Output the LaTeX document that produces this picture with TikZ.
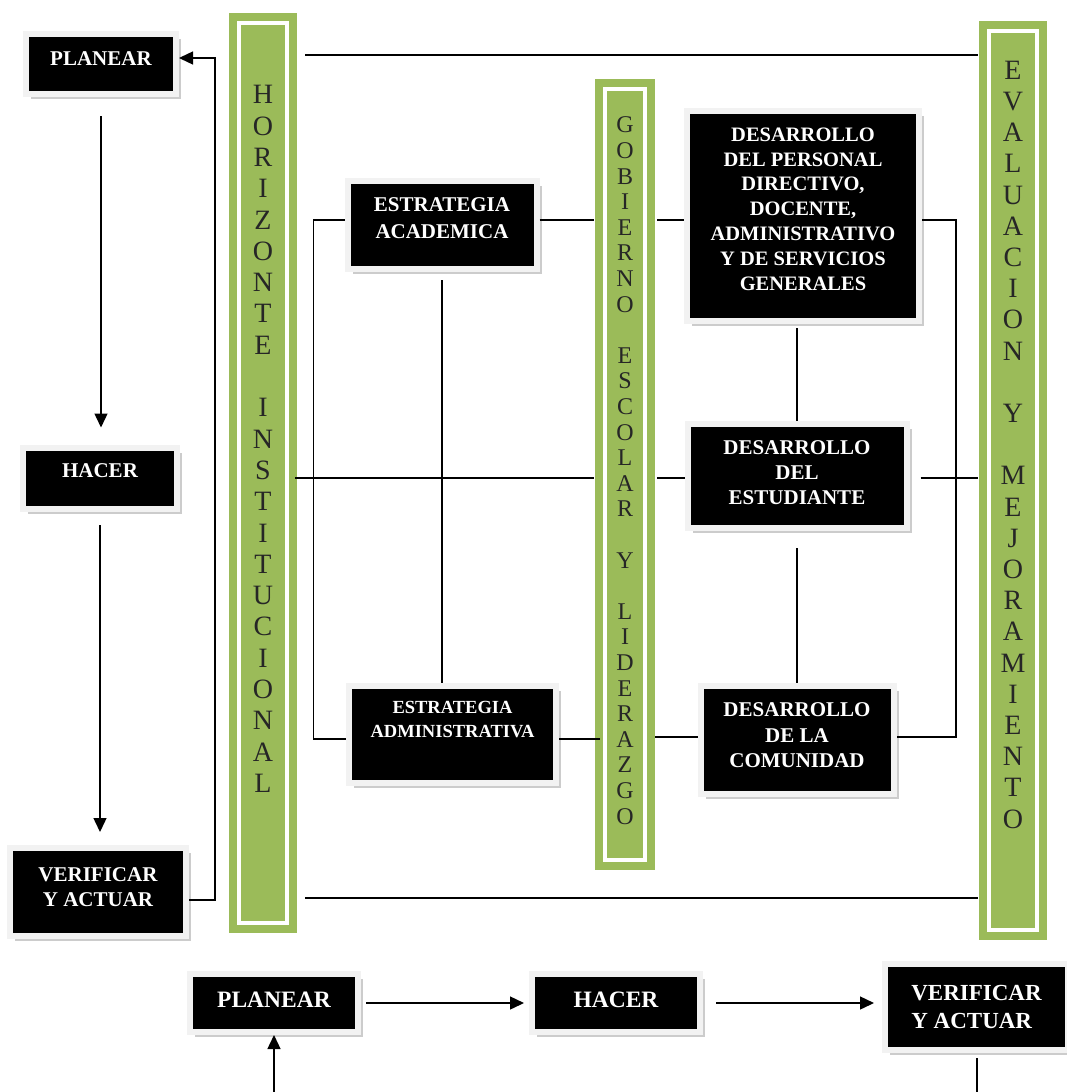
\documentclass[tikz,border=0pt]{standalone}
\usepackage{fontspec}
\setmainfont{Liberation Serif}
\usetikzlibrary{arrows.meta,shadows}
\definecolor{verde}{RGB}{155,187,89}
\newcommand{\bajo}[1]{\rule[-#1]{0pt}{#1}}

\tikzset{
  caja/.style={fill=black, draw=gray!10, line width=6pt, text=white, align=center,
    inner sep=0pt, font=\bfseries\fontsize{21}{26}\selectfont,
    drop shadow={shadow xshift=5pt, shadow yshift=-5pt, fill=gray!40, opacity=1}},
  barra/.style={fill=verde, draw=white, line width=4pt,
    preaction={draw=verde, line width=20pt}, align=center, inner sep=0pt,
    text=black!85, font=\fontsize{28}{31.3}\selectfont},
  linea/.style={line width=1.4pt},
  flecha/.style={line width=1.4pt, -{Triangle[length=14pt,width=13pt]}},
}

\begin{document}
\begin{tikzpicture}[x=1pt, y=-1pt]
  \useasboundingbox (0,0) rectangle (1066,1092);
  \coordinate (arriba) at (0,55);
  \coordinate (medio) at (0,478);
  \coordinate (abajo) at (0,898);
  \coordinate (entrada) at (274,1100);
  \coordinate (salida) at (977,1100);

  % barras verdes
  \node[barra, minimum width=48pt, minimum height=900pt] (horiz) at (263,473)
    {H\\O\\R\\I\\Z\\O\\N\\T\\E\\{}\\I\\N\\S\\T\\I\\T\\U\\C\\I\\O\\N\\A\\L\bajo{68pt}};
  \node[barra, minimum width=40pt, minimum height=771pt, font=\fontsize{24}{25.6}\selectfont] (gob) at (625,474.5)
    {G\\O\\B\\I\\E\\R\\N\\O\\{}\\E\\S\\C\\O\\L\\A\\R\\{}\\Y\\{}\\L\\I\\D\\E\\R\\A\\Z\\G\\O\bajo{8pt}};
  \node[barra, minimum width=48pt, minimum height=899pt, font=\fontsize{28}{31.2}\selectfont] (eval) at (1013,480.5)
    {E\\V\\A\\L\\U\\A\\C\\I\\O\\N\\{}\\Y\\{}\\M\\E\\J\\O\\R\\A\\M\\I\\E\\N\\T\\O\bajo{72pt}};

  % ciclo de la izquierda
  \node[caja, minimum width=150pt, minimum height=60pt] (planear) at (101,64) {PLANEAR\bajo{11pt}};
  \node[caja, minimum width=154pt, minimum height=61pt] (hacer) at (100,478) {HACER\bajo{14pt}};
  \node[caja, minimum width=176pt, minimum height=88pt, font=\bfseries\fontsize{21}{25}\selectfont] (verif) at (98,892)
    {VERIFICAR\\Y ACTUAR\bajo{9pt}};

  % estrategias
  \node[caja, minimum width=189pt, minimum height=88pt, font=\bfseries\fontsize{21}{27}\selectfont] (acad) at (442,225)
    {ESTRATEGIA\\ACADEMICA\bajo{13pt}};
  \node[caja, minimum width=207pt, minimum height=97pt, font=\bfseries\fontsize{18.5}{24}\selectfont] (admin) at (452.5,734.5)
    {ESTRATEGIA\\ADMINISTRATIVA\bajo{31pt}};

  % desarrollo
  \node[caja, minimum width=232pt, minimum height=210pt, font=\bfseries\fontsize{20.5}{24.8}\selectfont] (personal) at (803,216)
    {DESARROLLO\\DEL PERSONAL\\DIRECTIVO,\\DOCENTE,\\ADMINISTRATIVO\\Y DE SERVICIOS\\GENERALES\bajo{14pt}};
  \node[caja, minimum width=219pt, minimum height=104pt, font=\bfseries\fontsize{21}{25}\selectfont] (estud) at (797,476)
    {DESARROLLO\\DEL\\ESTUDIANTE\bajo{7pt}};
  \node[caja, minimum width=193pt, minimum height=108pt, font=\bfseries\fontsize{21}{25.5}\selectfont] (comun) at (797,740)
    {DESARROLLO\\DE LA\\COMUNIDAD\bajo{9pt}};

  % ciclo de abajo
  \node[caja, minimum width=168pt, minimum height=58pt, font=\bfseries\fontsize{23.5}{28}\selectfont] (planear2) at (274,1003)
    {PLANEAR\bajo{6pt}};
  \node[caja, minimum width=168pt, minimum height=58pt, font=\bfseries\fontsize{23.5}{28}\selectfont] (hacer2) at (616,1003)
    {HACER\bajo{6pt}};
  \node[caja, minimum width=183pt, minimum height=86pt, align=left, font=\bfseries\fontsize{23}{28}\selectfont] (verif2) at (976.5,1007)
    {VERIFICAR\\Y ACTUAR};

  % flechas del ciclo
  \draw[flecha, shorten <=19pt, shorten >=17pt] (planear.south) -- (planear.south |- hacer.north);
  \draw[flecha, shorten <=13.5pt, shorten >=13pt] (hacer.south) -- (hacer.south |- verif.north);
  \draw[flecha] ([yshift=-8pt]verif.east) -- ++(26,0) |- ([yshift=6pt]planear.east);

  % lineas entre barras
  \draw[linea, shorten <=16pt, shorten >=9pt] (horiz.east |- arriba) -- (eval.west |- arriba);
  \draw[linea, shorten <=16pt, shorten >=9pt] (horiz.east |- abajo) -- (eval.west |- abajo);
  \draw[linea, shorten <=6pt, shorten >=9pt] (horiz.east |- medio) -- (gob.west |- medio);
  \draw[linea, shorten <=10pt] (gob.east |- medio) -- (estud.west |- medio);
  \draw[linea, shorten <=11pt, shorten >=9pt] (estud.east |- medio) -- (eval.west |- medio);

  % estrategias
  \draw[linea] ([yshift=5pt]acad.west) -- ++(-31,0) |- ([yshift=-4.5pt]admin.west);
  \draw[linea, shorten <=8pt] (acad.south) -- (acad.south |- admin.north);
  \draw[linea, shorten >=9pt] ([yshift=5pt]acad.east) -- ([yshift=5pt]acad.east -| gob.west);
  \draw[linea, shorten >=3pt] ([yshift=-4.5pt]admin.east) -- ([yshift=-4.5pt]admin.east -| gob.west);

  % desarrollo
  \draw[linea, shorten <=10pt] ([yshift=-4pt]personal.west -| gob.east) -- ([yshift=-4pt]personal.west);
  \draw[linea, shorten <=8pt] ([yshift=3pt]comun.west -| gob.east) -- ([yshift=3pt]comun.west);
  \draw[linea, shorten <=4pt] (personal.south -| estud.north) -- (estud.north);
  \draw[linea, shorten <=17pt] (estud.south) -- (comun.north);
  \draw[linea] ([yshift=-4pt]personal.east) -- ++(34,0) |- ([yshift=3pt]comun.east);

  % ciclo de abajo
  \draw[flecha, shorten <=5pt, shorten >=5pt] (planear2.east) -- (hacer2.west);
  \draw[flecha, shorten <=13pt, shorten >=8pt] (hacer2.east) -- (hacer2.east -| verif2.west);
  \draw[linea, shorten <=5pt] (verif2.south -| salida) -- (salida);
  \draw[flecha] (entrada) -- (planear2.south);
\end{tikzpicture}
\end{document}
